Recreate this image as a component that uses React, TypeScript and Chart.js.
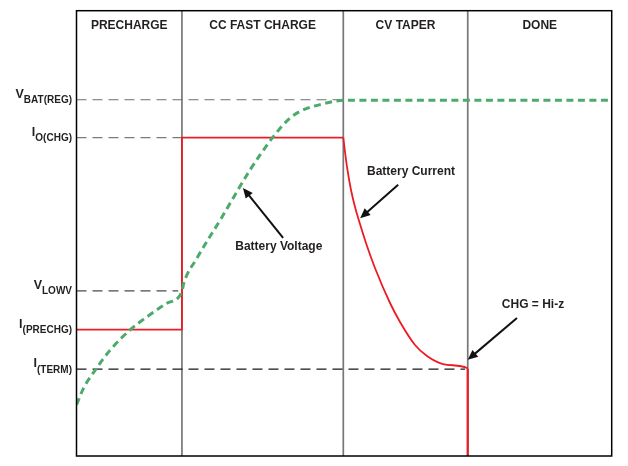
import React, { useEffect, useRef } from 'react';
import { Chart, registerables } from 'chart.js';

Chart.register(...registerables);

// Phases along the time axis (arbitrary time units 0..100)
const phaseNames = ['PRECHARGE', 'CC FAST CHARGE', 'CV TAPER', 'DONE'];
const phaseBounds = [0, 19.7, 49.85, 73.1, 100];

// Level labels on the left (arbitrary level units 0..100)
const levelMain = ['V', 'I', 'V', 'I', 'I'];
const levelSub = ['BAT(REG)', 'O(CHG)', 'LOWV', '(PRECHG)', '(TERM)'];
const levelValues = [80.0, 71.5, 37.1, 28.4, 19.5];
const levelLineEnd = [49.85, 19.7, 19.0, 0, 72.6];
const levelLineColor = ['#6f6f6f', '#7a7a7a', '#4a4a4a', '#ffffff', '#1a1a1a'];

// Battery voltage curve
const voltX = [0, 1.3, 3.5, 6.3, 10.0, 13.7, 16.9, 19.7, 20.0, 22.5, 27.0, 32.4, 34.3, 36.7, 39.9, 42.3, 45.5, 48.0, 49.85, 100];
const voltY = [11.5, 15.2, 19.3, 23.8, 28.3, 31.7, 34.3, 36.9, 38.6, 44.4, 53.3, 64.2, 67.6, 71.6, 75.9, 77.7, 78.9, 79.6, 79.9, 79.9];

// Battery current: constant steps, CV taper, termination drop
const stepX = [0, 19.7, 19.7, 49.85];
const stepY = [28.4, 28.4, 71.5, 71.5];
const taperX = [49.85, 50.17, 50.63, 51.29, 52.04, 52.97, 54.28, 55.77, 58.58, 60.45, 63.25, 65.49, 68.48, 72.97, 73.1];
const taperY = [71.5, 68.27, 64.23, 59.73, 55.92, 52.1, 47.16, 42.22, 34.36, 30.09, 24.93, 22.46, 20.66, 19.76, 19.6];
const dropX = [73.1, 73.1];
const dropY = [19.6, 0];

// Callouts: text position and arrow tail -> tip (data units)
const calloutText = ['Battery Voltage', 'Battery Current', 'CHG = Hi-z'];
const calloutTextX = [37.8, 62.5, 85.3];
const calloutTextY = [47.0, 63.8, 33.9];
const arrowFromX = [38.6, 60.1, 82.3];
const arrowFromY = [49.0, 60.9, 31.0];
const arrowToX = [31.1, 53.0, 73.1];
const arrowToY = [60.2, 53.4, 21.6];

const FONT = '"Liberation Sans", Arial, Helvetica, sans-serif';
const TEXT = '#231F20';

const zip = (xs: number[], ys: number[]) => xs.map((x, i) => ({ x, y: ys[i] }));

const overlay = {
  id: 'overlay',
  afterDatasetsDraw(chart: any) {
    const { ctx, chartArea: a, scales } = chart;
    const xs = scales.x;
    const ys = scales.y;
    ctx.save();
    // frame
    ctx.strokeStyle = '#000';
    ctx.lineWidth = 1.5;
    ctx.strokeRect(a.left, a.top, a.right - a.left, a.bottom - a.top);

    // phase titles
    ctx.fillStyle = TEXT;
    ctx.font = `bold 12px ${FONT}`;
    ctx.textAlign = 'center';
    ctx.textBaseline = 'middle';
    phaseNames.forEach((n, i) => {
      const cx = (xs.getPixelForValue(phaseBounds[i]) + xs.getPixelForValue(phaseBounds[i + 1])) / 2;
      ctx.fillText(n, cx, a.top + 15);
    });

    // level labels with subscripts
    ctx.textAlign = 'left';
    ctx.textBaseline = 'alphabetic';
    levelMain.forEach((m, i) => {
      const py = ys.getPixelForValue(levelValues[i]);
      const right = a.left - 4.5;
      ctx.font = `bold 10px ${FONT}`;
      const sw = ctx.measureText(levelSub[i]).width;
      ctx.fillText(levelSub[i], right - sw, py + 3.5);
      ctx.font = `bold 12.5px ${FONT}`;
      const mw = ctx.measureText(m).width;
      ctx.fillText(m, right - sw - mw, py - 2);
    });

    // callouts
    ctx.font = `bold 12px ${FONT}`;
    ctx.textAlign = 'center';
    ctx.textBaseline = 'middle';
    calloutText.forEach((t, i) => {
      ctx.fillStyle = TEXT;
      ctx.fillText(t, xs.getPixelForValue(calloutTextX[i]), ys.getPixelForValue(calloutTextY[i]));
      const x0 = xs.getPixelForValue(arrowFromX[i]);
      const y0 = ys.getPixelForValue(arrowFromY[i]);
      const x1 = xs.getPixelForValue(arrowToX[i]);
      const y1 = ys.getPixelForValue(arrowToY[i]);
      const ang = Math.atan2(y1 - y0, x1 - x0);
      const hl = 10;
      const hw = 4.5;
      const bx = x1 - hl * Math.cos(ang);
      const by = y1 - hl * Math.sin(ang);
      ctx.strokeStyle = '#111';
      ctx.lineWidth = 2;
      ctx.beginPath();
      ctx.moveTo(x0, y0);
      ctx.lineTo(bx + 2 * Math.cos(ang), by + 2 * Math.sin(ang));
      ctx.stroke();
      ctx.fillStyle = '#111';
      ctx.beginPath();
      ctx.moveTo(x1, y1);
      ctx.lineTo(bx + hw * Math.sin(ang), by - hw * Math.cos(ang));
      ctx.lineTo(bx - hw * Math.sin(ang), by + hw * Math.cos(ang));
      ctx.closePath();
      ctx.fill();
    });
    ctx.restore();
  },
};

export default function App() {
  const ref = useRef<HTMLCanvasElement | null>(null);

  useEffect(() => {
    if (!ref.current) return;
    const base = { pointRadius: 0, pointHoverRadius: 0, fill: false };
    const datasets: any[] = [];

    datasets.push({
      ...base,
      label: 'Battery Voltage',
      data: zip(voltX, voltY),
      borderColor: '#4CAA6C',
      borderWidth: 3,
      borderDash: [7, 4.5],
      cubicInterpolationMode: 'monotone',
      order: 0,
    });
    datasets.push({
      ...base,
      label: 'Battery Current (CC)',
      data: zip(stepX, stepY),
      borderColor: '#EC1C24',
      borderWidth: 1.8,
      tension: 0,
      order: 1,
    });
    datasets.push({
      ...base,
      label: 'Battery Current (CV)',
      data: zip(taperX, taperY),
      borderColor: '#EC1C24',
      borderWidth: 1.8,
      cubicInterpolationMode: 'monotone',
      order: 1,
    });
    datasets.push({
      ...base,
      label: 'Battery Current (off)',
      data: zip(dropX, dropY),
      borderColor: '#EC1C24',
      borderWidth: 2.2,
      tension: 0,
      order: 1,
    });
    levelValues.forEach((v, i) => {
      if (levelLineEnd[i] <= 0) return;
      datasets.push({
        ...base,
        label: levelSub[i],
        data: [{ x: 0, y: v }, { x: levelLineEnd[i], y: v }],
        borderColor: levelLineColor[i],
        borderWidth: 1.2,
        borderDash: [10, 6],
        tension: 0,
        order: 2,
      });
    });
    phaseBounds.slice(1, -1).forEach((b) => {
      datasets.push({
        ...base,
        label: 'divider',
        data: [{ x: b, y: 0 }, { x: b, y: 100 }],
        borderColor: '#777777',
        borderWidth: 1.7,
        tension: 0,
        order: 3,
      });
    });

    const chart = new Chart(ref.current, {
      type: 'line',
      data: { datasets },
      options: {
        animation: false,
        responsive: true,
        maintainAspectRatio: false,
        layout: { padding: { left: 76.5, right: 16.3, top: 10.7, bottom: 10 } },
        plugins: { legend: { display: false }, tooltip: { enabled: false } },
        events: [],
        scales: {
          x: { type: 'linear', min: 0, max: 100, display: false },
          y: { type: 'linear', min: 0, max: 100, display: false },
        },
      },
      plugins: [overlay],
    } as any);
    return () => chart.destroy();
  }, []);

  return (
    <div style={{ position: 'absolute', left: 0, top: 0, width: 628, height: 466, background: '#fff' }}>
      <canvas ref={ref} />
    </div>
  );
}
